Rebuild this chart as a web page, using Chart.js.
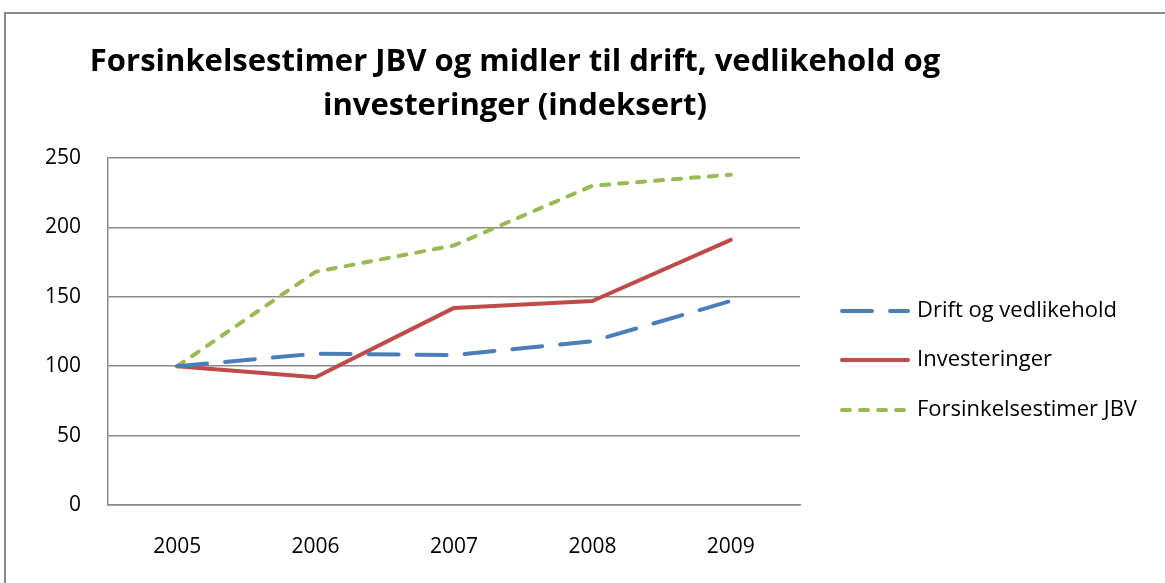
<!DOCTYPE html>
<html>
<head>
<meta charset="utf-8">
<script src="https://cdn.jsdelivr.net/npm/chart.js@4"></script>
<style>
  html, body { margin: 0; padding: 0; background: #fff; }
  #wrap { position: relative; width: 1165px; height: 583px; overflow: hidden; }
</style>
</head>
<body>
<div id="wrap"><canvas id="chart" width="1165" height="583"></canvas></div>
<script>
// data
const years = ['2005', '2006', '2007', '2008', '2009'];
const driftVedlikehold = [100, 109, 108, 118, 147];
const investeringer = [100, 92, 142, 147, 191];
const forsinkelser = [100, 168, 187, 230, 238];
const seriesNames = ['Drift og vedlikehold', 'Investeringer', 'Forsinkelsestimer JBV'];
const titleLines = ['Forsinkelsestimer JBV og midler til drift, vedlikehold og', 'investeringer (indeksert)'];

const FONT = "'Open Sans', 'DejaVu Sans', sans-serif";

// frame, title and legend drawn by hand to match the original layout
const decorPlugin = {
  id: 'decor',
  afterDraw(chart) {
    const ctx = chart.ctx;
    ctx.save();
    // outer frame (only top + left visible in the crop)
    ctx.strokeStyle = '#8a8a8a';
    ctx.lineWidth = 2;
    ctx.beginPath();
    ctx.moveTo(5, 590);
    ctx.lineTo(5, 13);
    ctx.lineTo(1170, 13);
    ctx.stroke();

    // title
    ctx.fillStyle = '#000';
    ctx.font = 'bold 31px ' + FONT;
    ctx.textAlign = 'center';
    ctx.textBaseline = 'middle';
    ctx.fillText(titleLines[0], 515, 62);
    ctx.fillText(titleLines[1], 515, 106);

    // legend
    const ys = [311, 360, 410];
    chart.data.datasets.forEach((ds, i) => {
      ctx.strokeStyle = ds.borderColor;
      ctx.lineWidth = ds.borderWidth;
      ctx.lineCap = 'round';
      ctx.setLineDash(ds.borderDash || []);
      ctx.beginPath();
      ctx.moveTo(842, ys[i]);
      ctx.lineTo(908, ys[i]);
      ctx.stroke();
      ctx.setLineDash([]);
      ctx.fillStyle = '#000';
      ctx.font = '22px ' + FONT;
      ctx.textAlign = 'left';
      ctx.fillText(ds.label, 917, ys[i]);
    });
    ctx.restore();
  }
};

new Chart(document.getElementById('chart'), {
  type: 'line',
  data: {
    labels: years,
    datasets: [
      {
        label: seriesNames[0],
        data: driftVedlikehold,
        borderColor: '#4a7ebb',
        borderWidth: 4,
        borderDash: [30, 18],
        borderCapStyle: 'round'
      },
      {
        label: seriesNames[1],
        data: investeringer,
        borderColor: '#be4b48',
        borderWidth: 4,
        borderCapStyle: 'round'
      },
      {
        label: seriesNames[2],
        data: forsinkelser,
        borderColor: '#98b954',
        borderWidth: 4,
        borderDash: [8, 10],
        borderCapStyle: 'round'
      }
    ]
  },
  options: {
    responsive: false,
    animation: false,
    events: [],
    layout: { padding: { left: 0, top: 158, right: 365, bottom: 0 } },
    elements: { point: { radius: 0 }, line: { tension: 0, borderJoinStyle: 'round' } },
    plugins: { legend: { display: false }, title: { display: false }, tooltip: { enabled: false } },
    scales: {
      x: {
        offset: true,
        grid: { display: false, drawTicks: false },
        border: { display: true, color: '#8a8a8a', width: 1.5 },
        ticks: { color: '#000', font: { family: FONT, size: 21 }, padding: 29, maxRotation: 0 },
        afterFit(scale) { scale.height = 78; }
      },
      y: {
        min: 0,
        max: 250,
        ticks: { stepSize: 50, color: '#000', font: { family: FONT, size: 21 }, padding: 27 },
        grid: { color: '#8a8a8a', lineWidth: 1.5, drawTicks: false },
        border: { display: true, color: '#8a8a8a', width: 1.5 },
        afterFit(scale) { scale.width = 108; }
      }
    }
  },
  plugins: [decorPlugin]
});
</script>
</body>
</html>
